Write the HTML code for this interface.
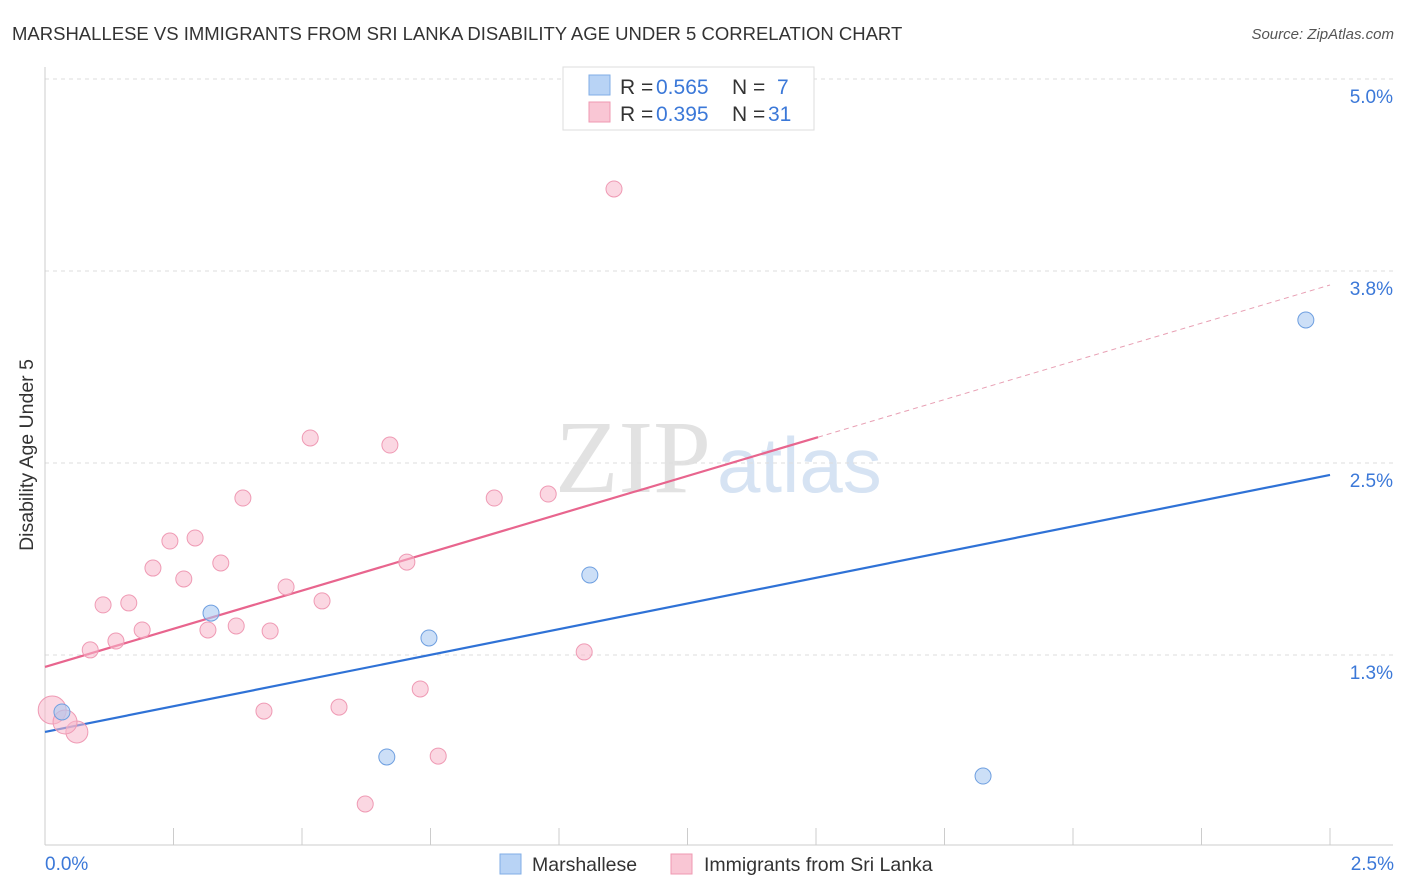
<!DOCTYPE html>
<html><head><meta charset="utf-8">
<style>
body{margin:0;background:#fff;font-family:"Liberation Sans",sans-serif;}
svg{display:block}
</style></head><body>
<svg id="chart" width="1406" height="892">
<text x="12" y="40" font-size="18.5" fill="#333">MARSHALLESE VS IMMIGRANTS FROM SRI LANKA DISABILITY AGE UNDER 5 CORRELATION CHART</text>
<text x="1394" y="39" font-size="15" fill="#555" font-style="italic" text-anchor="end">Source: ZipAtlas.com</text>
<g>
<text x="555" y="492" font-size="104" fill="#e2e2e2" font-family="Liberation Serif,serif">ZIP</text>
<text x="717" y="492" font-size="78" fill="#d6e3f3">atlas</text>
</g>
<g id="grid"></g>
<g id="axes"></g>
<g id="lines"></g>
<g id="points"></g>
<text x="33" y="455" font-size="19.5" fill="#333" text-anchor="middle" transform="rotate(-90 33 455)">Disability Age Under 5</text>
<text x="45" y="870" font-size="19" fill="#3b78d8">0.0%</text>
<text x="1394" y="870" font-size="19" fill="#3b78d8" text-anchor="end">2.5%</text>
<g>
<rect x="563" y="67" width="251" height="63" fill="#fff" stroke="#ddd"/>
<rect x="589" y="75" width="21" height="20" fill="#b8d3f5" stroke="#80aee6"/>
<rect x="589" y="102" width="21" height="20" fill="#f9c6d4" stroke="#ef98b2"/>
<text y="94" font-size="21"><tspan x="620" fill="#333">R = </tspan><tspan x="656" fill="#3b78d8">0.565</tspan><tspan x="732" fill="#333">N = </tspan><tspan x="777" fill="#3b78d8">7</tspan></text>
<text y="121" font-size="21"><tspan x="620" fill="#333">R = </tspan><tspan x="656" fill="#3b78d8">0.395</tspan><tspan x="732" fill="#333">N = </tspan><tspan x="768" fill="#3b78d8">31</tspan></text>
</g>
<g>
<rect x="500" y="854" width="21" height="20" fill="#b8d3f5" stroke="#80aee6"/>
<text x="532" y="871" font-size="19.5" fill="#333">Marshallese</text>
<rect x="671" y="854" width="21" height="20" fill="#f9c6d4" stroke="#ef98b2"/>
<text x="704" y="871" font-size="19.5" fill="#333">Immigrants from Sri Lanka</text>
</g>
</svg>
<script>
const yTicks=[5.0,3.75,2.5,1.25];
const yTickLabels=["5.0%","3.8%","2.5%","1.3%"];
const blueX=[0.033,0.323,0.665,0.747,1.060,1.825,2.453];
const blueY=[0.879,1.523,0.586,1.361,1.771,0.462,3.431];
const pinkX=[0.014,0.062,0.039,0.088,0.113,0.138,0.163,0.189,0.210,0.243,0.270,0.292,0.317,0.342,0.372,0.385,0.426,0.438,0.469,0.516,0.539,0.572,0.623,0.671,0.704,0.730,0.765,0.874,0.979,1.049,1.107];
const pinkY=[0.892,0.749,0.814,1.283,1.576,1.341,1.589,1.413,1.816,1.992,1.745,2.012,1.413,1.849,1.439,2.272,0.885,1.406,1.693,2.663,1.602,0.911,0.280,2.617,1.855,1.029,0.592,2.272,2.298,1.270,4.284];
const pinkR=[14,11,12,8,8,8,8,8,8,8,8,8,8,8,8,8,8,8,8,8,8,8,8,8,8,8,8,8,8,8,8];
const blueLine=[0.749,2.422];
const pinkLine=[1.172,3.659];
const pinkSolidEnd=1.504;
const NS="http://www.w3.org/2000/svg";
const X=v=>45+v/2.5*1285;
const Y=v=>79+(5-v)*153.6;
function mk(tag,attrs,parent){const e=document.createElementNS(NS,tag);for(const k in attrs)e.setAttribute(k,attrs[k]);document.getElementById(parent).appendChild(e);return e;}
yTicks.forEach((t,i)=>{
 const l=mk('line',{x1:45,x2:1393,y1:Y(t),y2:Y(t),stroke:'#ddd','stroke-dasharray':'4,4'},'grid');
 
 
 const tx=mk('text',{x:1393,y:Y(t)+24,'font-size':19,fill:'#3b78d8','text-anchor':'end'},'grid');
 tx.textContent=yTickLabels[i];
 
 
});
const ax=mk('line',{x1:45,x2:45,y1:67,y2:845,stroke:'#ccc'},'axes');


const bx=mk('line',{x1:45,x2:1393,y1:845,y2:845,stroke:'#ccc'},'axes');


for(let i=0;i<=10;i++){
 const t=mk('line',{x1:X(i*0.25),x2:X(i*0.25),y1:828,y2:845,stroke:'#ccc'},'axes');
 
 
}
const bl=mk('line',{x1:X(0),y1:Y(blueLine[0]),x2:X(2.5),y2:Y(blueLine[1]),stroke:'#2f72d6','stroke-width':2.2},'lines');


const pAt=x=>pinkLine[0]+(pinkLine[1]-pinkLine[0])*x/2.5;
const ps=mk('line',{x1:X(0),y1:Y(pinkLine[0]),x2:X(pinkSolidEnd),y2:Y(pAt(pinkSolidEnd)),stroke:'#e8658e','stroke-width':2.2},'lines');


const pd=mk('line',{x1:X(pinkSolidEnd),y1:Y(pAt(pinkSolidEnd)),x2:X(2.5),y2:Y(pinkLine[1]),stroke:'#e8a0b4','stroke-width':1,'stroke-dasharray':'5,4'},'lines');


pinkX.forEach((x,i)=>{
 const c=mk('circle',{cx:X(x),cy:Y(pinkY[i]),r:pinkR[i],fill:'rgba(247,182,202,0.55)',stroke:'#ef9ab4','stroke-width':1},'points');
 
 
});
blueX.forEach((x,i)=>{
 const c=mk('circle',{cx:X(x),cy:Y(blueY[i]),r:8,fill:'rgba(170,202,242,0.6)',stroke:'#6e9fe0','stroke-width':1},'points');
 
 
});
</script>
</body></html>
